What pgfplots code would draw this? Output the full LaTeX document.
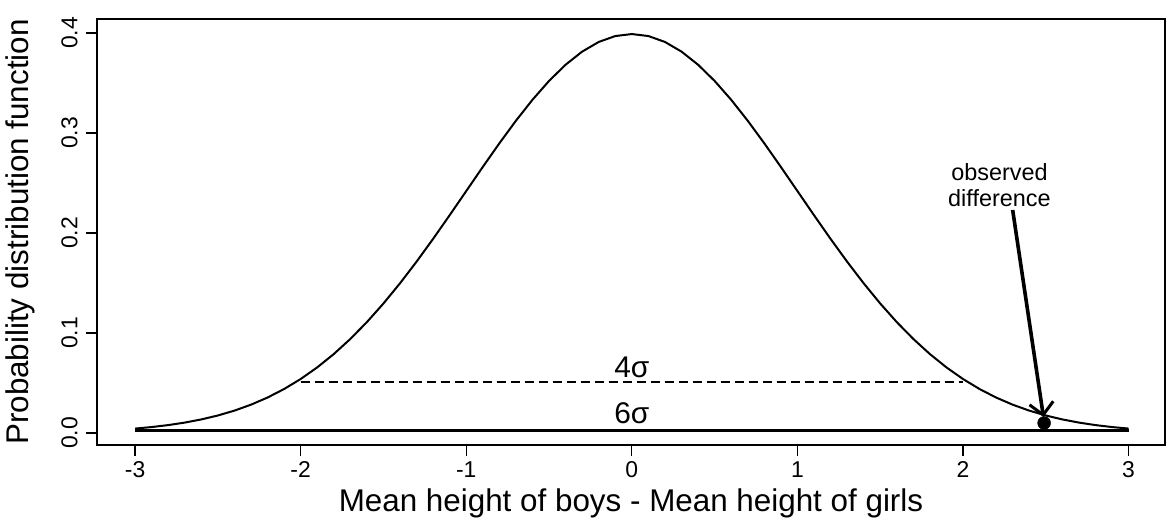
\documentclass[border=0pt]{standalone}
\usepackage{pgfplots}
\pgfplotsset{compat=1.18}
\usepackage{fontspec}
\setmainfont{Liberation Sans}
\usetikzlibrary{arrows.meta}
\newcommand\ticksize{\fontsize{23}{25}\selectfont}
\pgfplotstableread{
x y
-3.0 0.004432
-2.9 0.005953
-2.8 0.007915
-2.7 0.010421
-2.6 0.013583
-2.5 0.017528
-2.4 0.022395
-2.3 0.028327
-2.2 0.035475
-2.1 0.043984
-2.0 0.053991
-1.9 0.065616
-1.8 0.078950
-1.7 0.094049
-1.6 0.110921
-1.5 0.129518
-1.4 0.149727
-1.3 0.171369
-1.2 0.194186
-1.1 0.217852
-1.0 0.241971
-0.9 0.266085
-0.8 0.289692
-0.7 0.312254
-0.6 0.333225
-0.5 0.352065
-0.4 0.368270
-0.3 0.381388
-0.2 0.391043
-0.1 0.396953
0.0 0.398942
0.1 0.396953
0.2 0.391043
0.3 0.381388
0.4 0.368270
0.5 0.352065
0.6 0.333225
0.7 0.312254
0.8 0.289692
0.9 0.266085
1.0 0.241971
1.1 0.217852
1.2 0.194186
1.3 0.171369
1.4 0.149727
1.5 0.129518
1.6 0.110921
1.7 0.094049
1.8 0.078950
1.9 0.065616
2.0 0.053991
2.1 0.043984
2.2 0.035475
2.3 0.028327
2.4 0.022395
2.5 0.017528
2.6 0.013583
2.7 0.010421
2.8 0.007915
2.9 0.005953
3.0 0.004432
}\pdfdata
\begin{document}
\begin{tikzpicture}
\begin{axis}[
  at={(0,0)}, anchor=south west,
  scale only axis, width=1068bp, height=426bp,
  xmin=-3.23, xmax=3.22, ymin=-0.012, ymax=0.414,
  axis line style={line width=1.2bp},
  xtick={-3,-2,-1,0,1,2,3},
  ytick={0,0.1,0.2,0.3,0.4},
  xticklabels={-3,-2,-1,0,1,2,3},
  yticklabels={0.0,0.1,0.2,0.3,0.4},
  tick align=outside, tick pos=left,
  major tick length=11bp,
  tick style={line width=1.2bp, black},
  yticklabel style={font=\ticksize, rotate=90, anchor=south, yshift=5bp},
  xticklabel style={font=\ticksize, anchor=north, yshift=-2bp},
  /pgf/number format/assume math mode=true,
  xlabel={Mean height of boys - Mean height of girls},
  ylabel={Probability distribution function},
  xlabel style={font=\fontsize{31.5}{34}\selectfont, at={(axis description cs:0.5,0)}, anchor=north, yshift=-40bp},
  ylabel style={font=\fontsize{31.5}{34}\selectfont, at={(axis description cs:0,0.5)}, anchor=south, yshift=58bp},
  clip=false,
]
\addplot[line width=2bp, black] table[x=x,y=y] {\pdfdata};
\addplot[line width=1.8bp, black, dash pattern=on 9bp off 5bp] coordinates {(-2,0.051) (2,0.051)};
\addplot[line width=2.8bp, black] coordinates {(-3,0.0025) (3,0.0025)};
\addplot[only marks, mark=*, mark size=6.5bp, black] coordinates {(2.49,0.010)};
\draw[line width=3.6bp, -{Straight Barb[length=12bp,width=24bp,line width=3bp]}] (axis cs:2.30,0.223) -- (axis cs:2.486,0.016);
\node[font=\fontsize{30}{32}\selectfont, anchor=base] at (axis cs:0.0,0.056) {4σ};
\node[font=\fontsize{30}{32}\selectfont, anchor=base] at (axis cs:0.0,0.010) {6σ};
\node[font=\fontsize{23.5}{26}\selectfont, align=center] at (axis cs:2.22,0.248) {observed\\difference};
\end{axis}
\pgfresetboundingbox
\path[use as bounding box] ([xshift=-97bp,yshift=-79bp]current axis.south west) rectangle ([xshift=1bp,yshift=19bp]current axis.north east);
\end{tikzpicture}
\end{document}
